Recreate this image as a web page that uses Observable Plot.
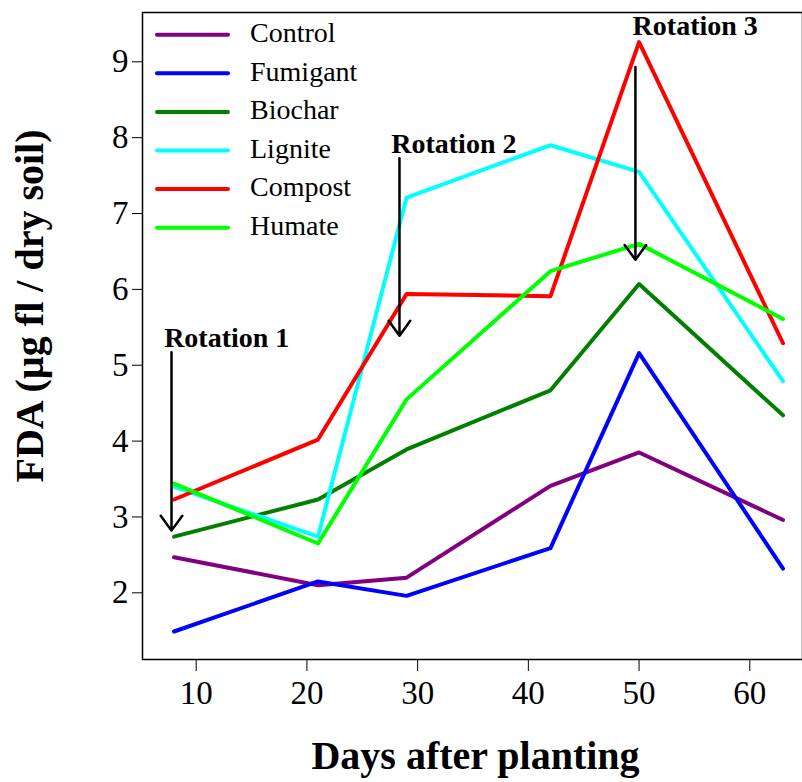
<!DOCTYPE html>
<html><head><meta charset="utf-8">
<script src="https://cdn.jsdelivr.net/npm/d3@7"></script>
<script src="https://cdn.jsdelivr.net/npm/@observablehq/plot@0.6"></script>
<style>
body{margin:0;background:#fff}
#wrap{position:relative;width:802px;height:782px;font-family:"Liberation Serif","Times New Roman",serif}
#legend{position:absolute;left:0;top:0}
</style>
</head><body><div id="wrap"></div>
<script>
const days = [8, 21, 29, 42, 50, 63];
const treatments = ["Control", "Fumigant", "Biochar", "Lignite", "Compost", "Humate"];
const colors = ["#800080", "#0000ff", "#007f00", "#00ffff", "#ff0000", "#00ff00"];
const control  = [2.47, 2.10, 2.20, 3.41, 3.85, 2.96];
const fumigant = [1.49, 2.15, 1.96, 2.59, 5.16, 2.32];
const biochar  = [2.74, 3.23, 3.89, 4.67, 6.07, 4.34];
const lignite  = [3.40, 2.74, 7.21, 7.90, 7.55, 4.79];
const compost  = [3.23, 4.02, 5.94, 5.91, 9.26, 5.29];
const humate   = [3.44, 2.65, 4.55, 6.24, 6.60, 5.61];
const xTicks = [10, 20, 30, 40, 50, 60];
const yTicks = [2, 3, 4, 5, 6, 7, 8, 9];
const rotationLabels = ["Rotation 1", "Rotation 2", "Rotation 3"];
const arrowX = [7.77, 28.36, 49.67];
const arrowTop = [5.17, 7.73, 8.93];
const arrowTip = [2.82, 5.39, 6.39];
const labelX = [12.76, 33.27, 55.07];
const labelY = [5.24, 7.80, 9.35];

const seriesValues = [control, fumigant, biochar, lignite, compost, humate];
const rows = [];
treatments.forEach((t, i) => days.forEach((d, j) => rows.push({treatment: t, day: d, fda: seriesValues[i][j]})));
const rot = rotationLabels.map((label, i) => ({label, x: arrowX[i], y1: arrowTop[i], y2: arrowTip[i], lx: labelX[i], ly: labelY[i]}));

const font = '"Liberation Serif","Times New Roman",serif';
const chart = Plot.plot({
  width: 802, height: 782,
  marginLeft: 142, marginTop: 12, marginBottom: 123, marginRight: 0,
  style: {fontFamily: font, background: "#fff", color: "#000"},
  x: {domain: [5.15, 64.76], ticks: xTicks},
  y: {domain: [1.121, 9.65], ticks: yTicks},
  color: {domain: treatments, range: colors},
  marks: [
    Plot.axisX({ticks: xTicks, tickSize: 12, tickPadding: 9, fontSize: 33, label: null, tickFormat: d => d, stroke: "#000"}),
    Plot.axisY({ticks: yTicks, tickSize: 10, tickPadding: 4, fontSize: 33, label: null, tickFormat: d => d, stroke: "#000"}),
    Plot.frame({stroke: "#000", strokeWidth: 1.5}),
    Plot.line(rows, {x: "day", y: "fda", z: "treatment", stroke: "treatment", strokeWidth: 4, strokeLinejoin: "round", strokeLinecap: "round"}),
    Plot.arrow(rot, {x1: "x", x2: "x", y1: "y1", y2: "y2", stroke: "#000", strokeWidth: 2.5, headLength: 11, headAngle: 72}),
    Plot.text(rot, {x: "lx", y: "ly", text: "label", fontSize: 28, fontWeight: "bold", lineAnchor: "bottom", textAnchor: "middle", fill: "#000"}),
    Plot.text(["Days after planting"], {frameAnchor: "bottom", dy: 109, dx: 3, text: d => d, fontSize: 40, fontWeight: "bold", lineAnchor: "bottom", textAnchor: "middle", fill: "#000"}),
    Plot.text(["FDA (\u00b5g fl / dry soil)"], {frameAnchor: "left", dx: -100, dy: -30, text: d => d, fontSize: 40, fontWeight: "bold", rotate: -90, lineAnchor: "bottom", textAnchor: "middle", fill: "#000"})
  ]
});
const wrap = document.getElementById("wrap");
wrap.appendChild(chart);

// legend overlay
const leg = d3.select(wrap).append("svg").attr("id", "legend").attr("width", 400).attr("height", 260);
treatments.forEach((t, i) => {
  const y = 34.7 + i * 38.6;
  leg.append("line").attr("x1", 157).attr("x2", 228).attr("y1", y).attr("y2", y)
    .attr("stroke", colors[i]).attr("stroke-width", 4).attr("stroke-linecap", "round");
  leg.append("text").attr("x", 250).attr("y", y + 7.3).text(t)
    .attr("font-family", font).attr("font-size", 28).attr("fill", "#000");
});
</script></body></html>
